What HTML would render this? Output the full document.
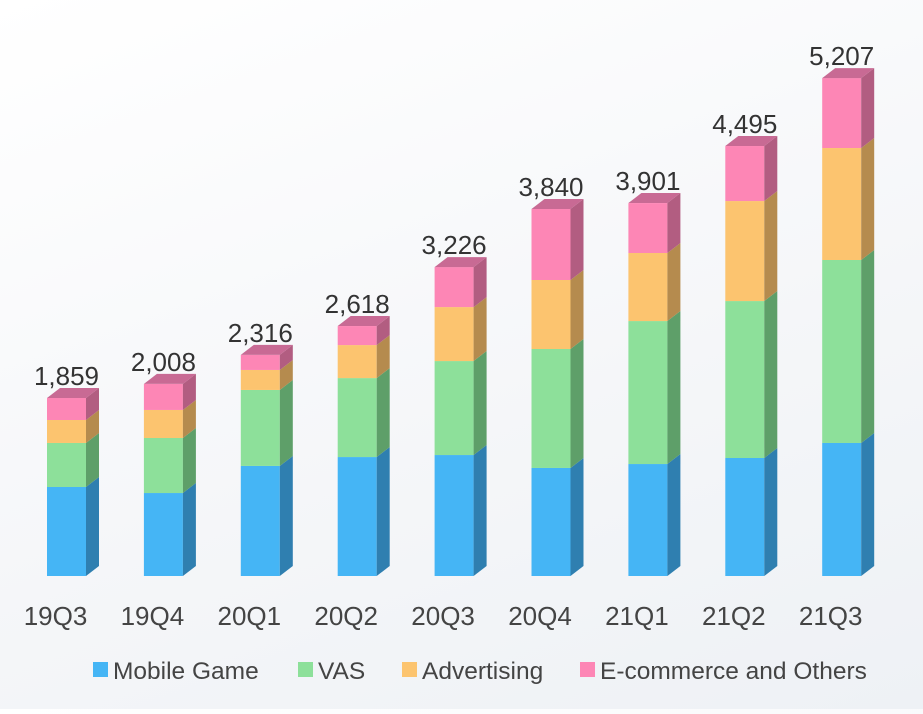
<!DOCTYPE html>
<html><head><meta charset="utf-8"><style>
html,body{margin:0;padding:0;}
body{width:923px;height:709px;overflow:hidden;background:linear-gradient(160deg,#ffffff 0%,#f7f8fa 45%,#eef1f5 100%);font-family:"Liberation Sans",sans-serif;}
</style></head><body>
<svg id="chart" width="923" height="709" viewBox="0 0 923 709" xmlns="http://www.w3.org/2000/svg"></svg>
<script>
const categories=["19Q3","19Q4","20Q1","20Q2","20Q3","20Q4","21Q1","21Q2","21Q3"];
const mobileGame=[930,867,1150,1243,1264,1129,1170,1233,1390];
const vas=[460,575,794,825,982,1243,1494,1640,1912];
const advertising=[240,293,209,345,564,721,711,1045,1170];
const ecommerce=[230,272,157,199,418,742,522,575,731];
const totals=[1859,2008,2316,2618,3226,3840,3901,4495,5207];
const seriesNames=["Mobile Game","VAS","Advertising","E-commerce and Others"];

const svg=document.getElementById('chart');
const NS="http://www.w3.org/2000/svg";
const base=576, scale=0.0957, x0=47, step=96.9, bw=39, dx=13, dy=10;
const yOf=v=>base-v*scale;
const xOf=i=>x0+i*step;
const frontC=["#45b5f5","#8de09a","#fcc46f","#fd86b5"];
const sideC=["#2f7fb0","#5e9f69","#b58b4e","#b25d81"];
const topC=["#6fa0c8","#79b884","#d3a660","#c86a94"];
const series=[mobileGame,vas,advertising,ecommerce];
function el(t,a,p){const e=document.createElementNS(NS,t);for(const k in a)e.setAttribute(k,a[k]);(p||svg).appendChild(e);return e;}

categories.forEach((c,i)=>{
  const g=el('g',{});
  
  
  let cum=0;const x=xOf(i);
  series.forEach((s,k)=>{
    const y1=yOf(cum), y2=yOf(cum+s[i]);
    const r=el('rect',{x:x,y:y2,width:bw,height:y1-y2,fill:frontC[k]},g);
    
    
    el('polygon',{points:`${x+bw},${y1} ${x+bw+dx},${y1-dy} ${x+bw+dx},${y2-dy} ${x+bw},${y2}`,fill:sideC[k]},g);
    cum+=s[i];
    if(k===3){
      el('polygon',{points:`${x},${y2} ${x+dx},${y2-dy} ${x+bw+dx},${y2-dy} ${x+bw},${y2}`,fill:topC[k]},g);
    }
  });
  const tl=el('text',{x:x+bw/2,y:yOf(cum)-13,'text-anchor':'middle','font-size':'26',fill:'#333'});
  tl.textContent=totals[i].toLocaleString('en-US');
  
  
  const xl=el('text',{x:x+bw/2-11,y:625,'text-anchor':'middle','font-size':'26',fill:'#444'});
  xl.textContent=c;
  
  
});
const lx=[93,298,402,580];
seriesNames.forEach((n,k)=>{
  const g=el('g',{});
  
  
  el('rect',{x:lx[k],y:662,width:15,height:15,fill:frontC[k]},g);
  const t=el('text',{x:lx[k]+20,y:679,'font-size':'24.5',fill:'#444'},g);
  t.textContent=n;
});
</script>
</body></html>
